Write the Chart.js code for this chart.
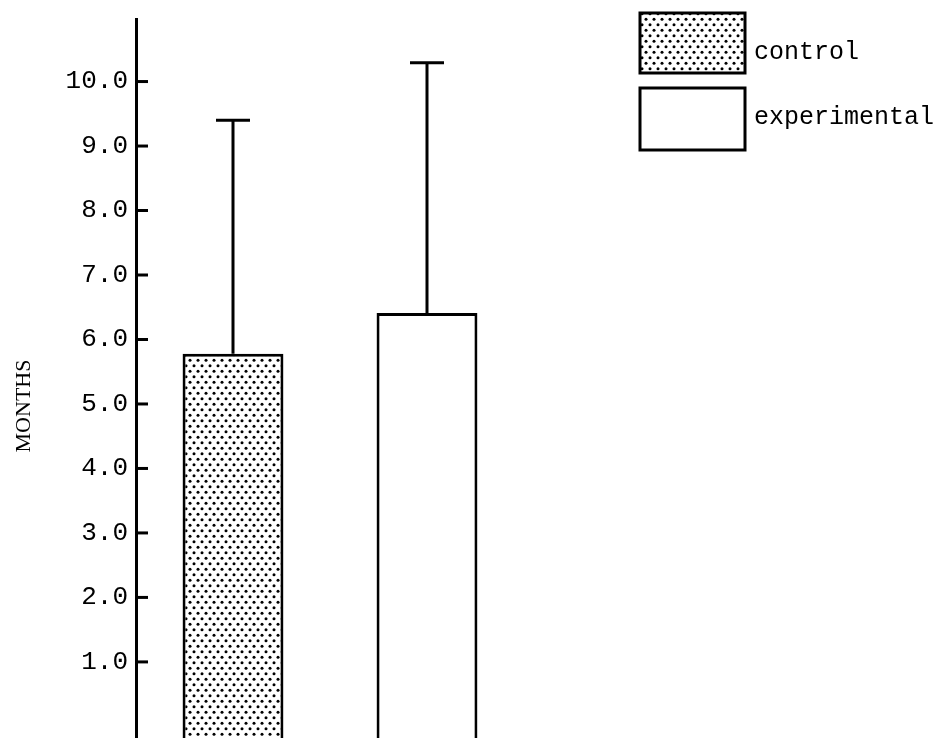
<!DOCTYPE html>
<html>
<head>
<meta charset="utf-8">
<script src="https://cdn.jsdelivr.net/npm/chart.js@4.4.1/dist/chart.umd.min.js"></script>
<style>
  html, body { margin: 0; padding: 0; background: #fff; }
  #wrap { width: 948px; height: 738px; }
</style>
</head>
<body>
<div id="wrap"><canvas id="monthsChart" width="948" height="738"></canvas></div>
<script>
// data
const groups = ['control', 'experimental', '', ''];
const means = [5.78, 6.41, null, null];
const upperErr = [9.40, 10.29, null, null];
const tickValues = [1, 2, 3, 4, 5, 6, 7, 8, 9, 10];
const yLabel = 'MONTHS';

const yMin = -0.18, yMax = 10.97;
const mono = '"Liberation Mono", "DejaVu Sans Mono", monospace';

function dotPattern(ctx) {
  const c = document.createElement('canvas');
  c.width = 8; c.height = 11;
  const p = c.getContext('2d');
  p.fillStyle = '#fff';
  p.fillRect(0, 0, 8, 11);
  p.fillStyle = '#000';
  [[2, 2.75], [6, 8.25]].forEach(([x, y]) => {
    p.beginPath();
    p.arc(x, y, 1.5, 0, Math.PI * 2);
    p.fill();
  });
  return ctx.createPattern(c, 'repeat');
}

const canvas = document.getElementById('monthsChart');
const ctx = canvas.getContext('2d');
const dots = dotPattern(ctx);

// error bars, inward ticks, axis title and the legend boxes
const extras = {
  id: 'extras',
  afterDatasetsDraw(chart) {
    const c = chart.ctx;
    const y = chart.scales.y;
    const meta = chart.getDatasetMeta(0);
    c.save();
    c.strokeStyle = '#000';
    c.lineWidth = 3;
    c.lineCap = 'butt';

    meta.data.forEach((bar, i) => {
      if (means[i] == null) return;
      const top = y.getPixelForValue(upperErr[i]);
      c.beginPath();
      c.moveTo(bar.x, bar.y);
      c.lineTo(bar.x, top);
      c.moveTo(bar.x - 17, top);
      c.lineTo(bar.x + 17, top);
      c.stroke();
    });

    const ax = chart.chartArea.left;
    tickValues.forEach(v => {
      const py = y.getPixelForValue(v);
      c.beginPath();
      c.moveTo(ax, py);
      c.lineTo(ax + 12, py);
      c.stroke();
    });

    // y title
    c.fillStyle = '#000';
    c.font = '22px "Liberation Serif", "DejaVu Serif", serif';
    c.translate(24, 406);
    c.rotate(-Math.PI / 2);
    c.textAlign = 'center';
    c.textBaseline = 'middle';
    c.fillText(yLabel, 0, 0);
    c.setTransform(1, 0, 0, 1, 0, 0);

    // legend
    const fills = [dots, '#fff'];
    const boxes = [[640, 13, 105, 60], [640, 88, 105, 62]];
    const textY = [52, 117];
    c.font = '25px ' + mono;
    c.textAlign = 'left';
    c.textBaseline = 'middle';
    groups.slice(0, 2).forEach((g, i) => {
      const [bx, by, bw, bh] = boxes[i];
      c.fillStyle = fills[i];
      c.fillRect(bx, by, bw, bh);
      c.strokeRect(bx, by, bw, bh);
      c.fillStyle = '#000';
      c.fillText(g, 754, textY[i]);
    });
    c.restore();
  }
};

new Chart(ctx, {
  type: 'bar',
  data: {
    labels: groups,
    datasets: [{
      data: means,
      base: yMin,
      backgroundColor: [dots, '#fff'],
      borderColor: '#000',
      borderWidth: 3,
      borderSkipped: 'bottom',
      barPercentage: 0.52,
      categoryPercentage: 1
    }]
  },
  options: {
    responsive: false,
    animation: false,
    devicePixelRatio: 1,
    layout: { padding: { top: 19, bottom: 0, left: 0, right: 36 } },
    plugins: {
      legend: { display: false },
      tooltip: { enabled: false }
    },
    scales: {
      x: { display: false },
      y: {
        min: yMin,
        max: yMax,
        afterBuildTicks: axis => { axis.ticks = tickValues.map(v => ({ value: v })); },
        afterFit: axis => {
          axis.width = 136;
          axis.paddingTop = 0;
          axis.paddingBottom = 0;
        },
        grid: { display: false, drawTicks: false },
        border: { display: true, color: '#000', width: 3 },
        ticks: {
          color: '#000',
          padding: 8,
          font: { family: mono, size: 26 },
          callback: v => v.toFixed(1)
        }
      }
    }
  },
  plugins: [extras]
});
</script>
</body>
</html>
